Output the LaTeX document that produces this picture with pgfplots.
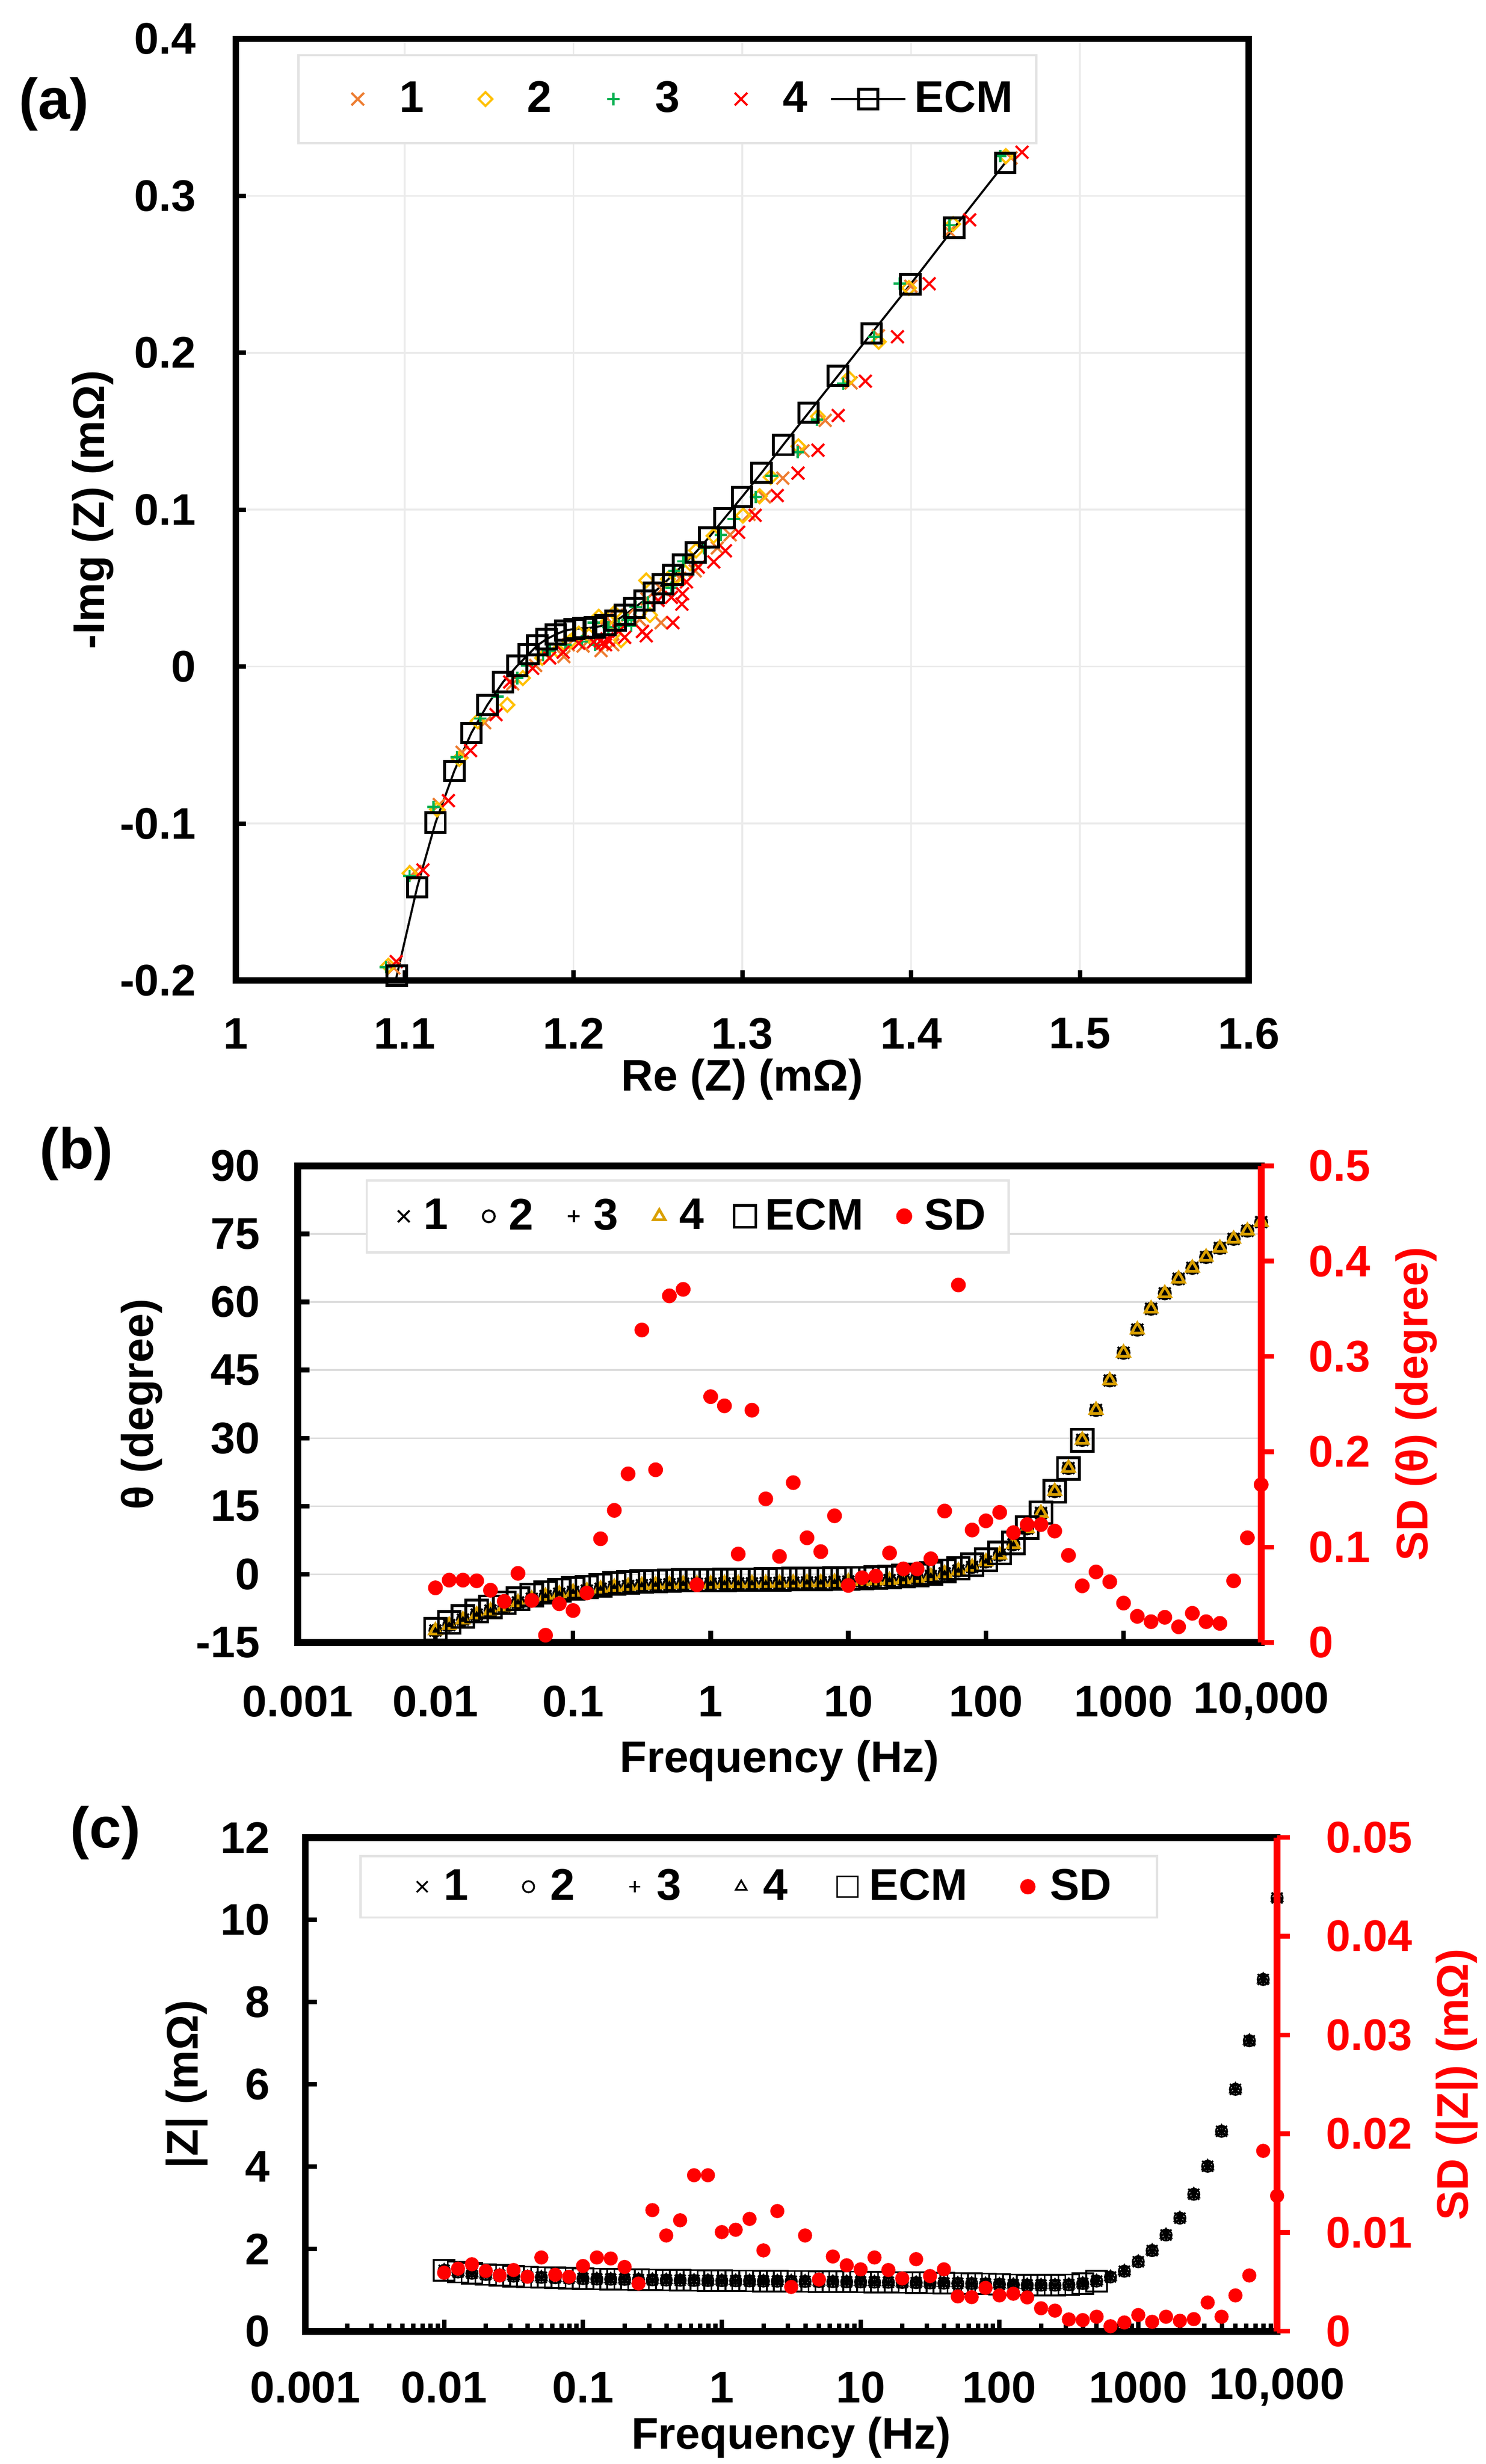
\documentclass[border=0pt]{standalone}
\usepackage{fontspec}
\setmainfont{Liberation Sans}
\usepackage{pgfplots}
\usepackage{pgfplotstable}
\pgfplotsset{compat=1.18}
\definecolor{cor}{HTML}{ED7D31}
\definecolor{cgo}{HTML}{FFC000}
\definecolor{cgr}{HTML}{00B050}
\definecolor{cre}{HTML}{FF0000}
\definecolor{ctr}{HTML}{DAA000}
\definecolor{cgrid}{HTML}{EBEBEB}
\definecolor{cgridb}{HTML}{DDDDDD}
\definecolor{cleg}{HTML}{E3E3E3}
\newcommand{\tf}{\fontsize{15}{18}\selectfont\bfseries}
\pgfplotsset{mimg/.style={legend image code/.code={\path (0pt,0pt) (2*#1,0pt); \draw[##1] plot coordinates {(#1,0pt)};}},
 ecmimg/.style={legend image code/.code={\draw[mark repeat=2,mark phase=2,##1] plot coordinates {(0pt,0pt)(#1,0pt)(2*#1,0pt)};}}}

% idx f theta_meas theta_ECM SD_theta |Z|_meas |Z|_ECM SD_|Z|
\pgfplotstableread{
i f thm thecm sdth zm zecm sdz
0 0.01 -12.4 -12.1 0.0572 1.48 1.48 0.00593
1 0.01259 -11.2 -10.6 0.0653 1.44 1.44 0.00634
2 0.01585 -10.0 -9.3 0.0653 1.41 1.41 0.00679
3 0.01995 -8.9 -8.1 0.0646 1.38 1.38 0.0061
4 0.02512 -8.0 -7.2 0.0547 1.36 1.36 0.00565
5 0.03162 -7.1 -6.3 0.0430 1.34 1.34 0.0062
6 0.03981 -6.2 -5.4 0.0724 1.32 1.32 0.00552
7 0.05012 -5.4 -4.6 0.0440 1.31 1.31 0.00747
8 0.0631 -4.8 -4.0 0.0075 1.30 1.30 0.00572
9 0.07943 -4.3 -3.5 0.0405 1.29 1.29 0.00552
10 0.1 -3.9 -3.1 0.0334 1.28 1.28 0.00661
11 0.1259 -3.6 -2.8 0.0518 1.27 1.27 0.00747
12 0.1585 -3.2 -2.4 0.1087 1.265 1.265 0.00737
13 0.1995 -2.8 -2.0 0.1385 1.26 1.26 0.00651
14 0.2512 -2.6 -1.8 0.1768 1.255 1.255 0.00483
15 0.3162 -2.4 -1.6 0.3278 1.25 1.25 0.01227
16 0.3981 -2.3 -1.5 0.1811 1.245 1.245 0.0097
17 0.5012 -2.2 -1.4 0.3636 1.24 1.24 0.01124
18 0.631 -2.1 -1.3 0.3704 1.235 1.235 0.0158
19 0.7943 -2.1 -1.3 0.0604 1.232 1.232 0.0158
20 1 -2.1 -1.3 0.2578 1.229 1.229 0.01004
21 1.259 -2.0 -1.25 0.2482 1.226 1.226 0.01028
22 1.585 -2.0 -1.2 0.0927 1.223 1.223 0.01138
23 1.995 -2.0 -1.2 0.2436 1.22 1.22 0.00819
24 2.512 -1.95 -1.15 0.1506 1.217 1.217 0.01217
25 3.162 -1.9 -1.1 0.0902 1.214 1.214 0.00449
26 3.981 -1.85 -1.05 0.1676 1.211 1.211 0.0097
27 5.012 -1.8 -1.0 0.1097 1.208 1.208 0.00524
28 6.31 -1.8 -1.0 0.0952 1.205 1.205 0.00757
29 7.943 -1.7 -0.95 0.1328 1.202 1.202 0.00668
30 10 -1.6 -0.9 0.0597 1.2 1.2 0.00627
31 12.59 -1.55 -0.85 0.0678 1.195 1.195 0.00747
32 15.85 -1.4 -0.7 0.0696 1.19 1.19 0.0062
33 19.95 -1.3 -0.6 0.0938 1.185 1.185 0.00535
34 25.12 -1.1 -0.4 0.0771 1.18 1.18 0.0073
35 31.62 -0.8 -0.15 0.0771 1.175 1.175 0.00559
36 39.81 -0.4 0.2 0.0877 1.17 1.17 0.00627
37 50.12 0.2 0.75 0.1378 1.165 1.165 0.00353
38 63.1 0.8 1.3 0.375 1.16 1.16 0.00346
39 79.43 1.6 2.1 0.1179 1.15 1.15 0.00439
40 100 2.8 3.2 0.1275 1.14 1.14 0.00363
41 125.9 4.3 4.7 0.1364 1.13 1.13 0.0038
42 158.5 6.6 6.9 0.1151 1.125 1.125 0.00343
43 199.5 10.1 10.3 0.1236 1.12 1.12 0.00233
44 251.2 13.5 13.6 0.1236 1.12 1.12 0.00209
45 316.2 18.3 18.3 0.1168 1.13 1.13 0.0012
46 398.1 23.4 23.3 0.0913 1.16 1.16 0.00113
47 501.2 29.6 29.5 0.0593 1.22 1.22 0.00147
48 631 36.2 nan 0.0739 1.32 nan 0.00051
49 794.3 42.7 nan 0.0636 1.46 nan 0.00089
50 1000 48.8 nan 0.0412 1.69 nan 0.00164
51 1259 53.9 nan 0.0273 1.96 nan 0.00096
52 1585 58.5 nan 0.0217 2.34 nan 0.00147
53 1995 61.9 nan 0.0263 2.75 nan 0.00106
54 2512 65.1 nan 0.0163 3.33 nan 0.00123
55 3162 67.5 nan 0.0305 4.01 nan 0.00291
56 3981 69.9 nan 0.0217 4.86 nan 0.00147
57 5012 71.9 nan 0.0199 5.88 nan 0.00363
58 6310 73.9 nan 0.0646 7.06 nan 0.00565
59 7943 75.7 nan 0.1097 8.55 nan 0.01827
60 10000 77.6 nan 0.1655 10.53 nan 0.01371
}\tabF

\begin{document}
\begin{tikzpicture}
\useasboundingbox (0,0) rectangle (503.55pt,835.35pt);

%================ (a) =================
\begin{axis}[
 at={(79.95pt,502.95pt)}, anchor=south west, scale only axis,
 width=343.35pt, height=319.2pt,
 xmin=1, xmax=1.6, ymin=-0.2, ymax=0.4,
 xtick={1,1.1,1.2,1.3,1.4,1.5,1.6}, xticklabels={1,1.1,1.2,1.3,1.4,1.5,1.6},
 ytick={-0.2,-0.1,0,0.1,0.2,0.3,0.4}, yticklabels={-0.2,-0.1,0,0.1,0.2,0.3,0.4},
 xtick pos=bottom, ytick pos=left, tick align=inside, major tick length=3.5pt,
 major tick style={line width=1.5pt, black},
 axis line style={line width=2.1pt},
 grid=major, major grid style={cgrid, line width=0.6pt},
 tick label style={font=\tf},
 xticklabel style={anchor=center, yshift=-18pt},
 yticklabel style={anchor=east, inner sep=0pt, xshift=-13.3pt},
 every axis x label/.style={at={(axis description cs:0.5,-0.105)}, anchor=center, font=\tf},
 every axis y label/.style={at={(axis description cs:-0.141,0.5)}, rotate=90, anchor=center, font=\tf},
 xlabel={Re (Z) (mΩ)}, ylabel={-Img (Z) (mΩ)},
 legend columns=-1, legend cell align=left,
 legend style={at={(0.0607,0.984)}, anchor=north west, draw=cleg, line width=0.8pt,
   inner xsep=6.9pt, inner ysep=6.9pt, font=\tf, nodes={inner xsep=1pt, inner ysep=2pt},
   column sep=0pt, /tikz/every even column/.append style={column sep=6.6pt}},
]
\addplot[only marks, mark=x, mark size=3pt, line width=0.75pt, cor, mimg=12.8pt] coordinates {
(1.4592,0.3242)(1.4227,0.2774)(1.3998,0.2424)(1.3806,0.2108)(1.3644,0.1808)(1.3491,0.1569)
(1.3360,0.1375)(1.3240,0.1201)(1.3131,0.1081)(1.3040,0.0970)(1.2928,0.0840)(1.2852,0.0756)
(1.2721,0.0610)(1.2629,0.0563)(1.2523,0.0492)(1.2435,0.0431)(1.2519,0.0280)(1.2392,0.0299)
(1.2321,0.0328)(1.2198,0.0309)(1.2409,0.0224)(1.2233,0.0139)(1.2163,0.0102)(1.2057,0.0131)
(1.1969,0.0139)(1.1943,0.0064)(1.1776,0.0007)(1.1640,-0.0110)(1.1474,-0.0358)(1.1340,-0.0546)
(1.1205,-0.0879)(1.1062,-0.1306)(1.0936,-0.1920)};
\addlegendentry{1}
\addplot[only marks, mark=square, mark size=1.65pt, mark options={rotate=45}, line width=0.75pt, cgo, mimg=12.8pt] coordinates {
(1.4561,0.3253)(1.4249,0.2820)(1.3987,0.2413)(1.3808,0.2070)(1.3631,0.1837)(1.3448,0.1594)
(1.3332,0.1404)(1.3168,0.1208)(1.3103,0.1086)(1.3004,0.0962)(1.2830,0.0833)(1.2726,0.0740)
(1.2690,0.0657)(1.2611,0.0572)(1.2559,0.0558)(1.2431,0.0549)(1.2453,0.0328)(1.2242,0.0342)
(1.2150,0.0318)(1.2250,0.0262)(1.2282,0.0168)(1.2092,0.0196)(1.2031,0.0210)(1.1978,0.0158)
(1.1907,0.0103)(1.1815,0.0055)(1.1700,-0.0073)(1.1608,-0.0244)(1.1432,-0.0348)(1.1323,-0.0588)
(1.1192,-0.0910)(1.1029,-0.1317)(1.0903,-0.1906)};
\addlegendentry{2}
\addplot[only marks, mark=+, mark size=2.1pt, line width=0.8pt, cgr, mimg=12.8pt] coordinates {
(1.4528,0.3253)(1.4227,0.2813)(1.3932,0.2440)(1.3780,0.2102)(1.3598,0.1804)(1.3443,0.1573)
(1.3328,0.1366)(1.3175,0.1217)(1.3081,0.1081)(1.2950,0.0941)(1.2872,0.0840)(1.2773,0.0756)
(1.2651,0.0671)(1.2598,0.0611)(1.2580,0.0502)(1.2440,0.0408)(1.2369,0.0379)(1.2321,0.0299)
(1.2343,0.0262)(1.2268,0.0262)(1.2207,0.0252)(1.2119,0.0280)(1.2128,0.0139)(1.2049,0.0159)
(1.1952,0.0139)(1.1859,0.0102)(1.1820,0.0073)(1.1726,0.0006)(1.1667,-0.0073)(1.1550,-0.0192)
(1.1449,-0.0331)(1.1309,-0.0577)(1.1171,-0.0894)(1.1029,-0.1333)(1.0889,-0.1915)};
\addlegendentry{3}
\addplot[only marks, mark=x, mark size=3pt, line width=0.75pt, cre, mimg=12.8pt] coordinates {
(1.4657,0.3278)(1.4347,0.2847)(1.4107,0.2440)(1.3919,0.2102)(1.3729,0.1819)(1.3568,0.1600)
(1.3448,0.1379)(1.3330,0.1233)(1.3207,0.1090)(1.3076,0.0964)(1.2978,0.0856)(1.2900,0.0738)
(1.2831,0.0667)(1.2739,0.0634)(1.2669,0.0540)(1.2646,0.0464)(1.2642,0.0398)(1.2580,0.0441)
(1.2501,0.0422)(1.2589,0.0280)(1.2431,0.0196)(1.2409,0.0224)(1.2303,0.0186)(1.2268,0.0224)
(1.2198,0.0177)(1.2172,0.0149)(1.2190,0.0139)(1.2207,0.0170)(1.2159,0.0163)(1.2119,0.0157)
(1.2031,0.0149)(1.1939,0.0092)(1.1859,0.0055)(1.1758,-0.0011)(1.1622,-0.0098)(1.1541,-0.0306)
(1.1390,-0.0535)(1.1259,-0.0854)(1.1108,-0.1296)(1.0950,-0.1880)};
\addlegendentry{4}
\addplot[black, line width=0.7pt, mark=square, mark size=3.3pt, mark options={line width=1pt, fill=none}, ecmimg=12.6pt] coordinates {
(1.4557,0.3210)(1.4255,0.2797)(1.3996,0.2436)(1.3766,0.2124)(1.3566,0.1853)(1.3393,0.1618)
(1.3242,0.1413)(1.3114,0.1235)(1.2998,0.1081)(1.2895,0.0946)(1.2802,0.0823)(1.2724,0.0728)
(1.2650,0.0650)(1.2590,0.0585)(1.2530,0.0525)(1.2475,0.0470)(1.2420,0.0422)(1.2360,0.0375)
(1.2305,0.0330)(1.2250,0.0292)(1.2190,0.0265)(1.2125,0.0250)(1.2060,0.0245)(1.2005,0.0240)
(1.1950,0.0230)(1.1895,0.0205)(1.1840,0.0175)(1.1785,0.0135)(1.1734,0.0079)(1.1667,0.0006)
(1.1583,-0.0098)(1.1490,-0.0244)(1.1395,-0.0423)(1.1294,-0.0665)(1.1183,-0.0994)(1.1074,-0.1406)
(1.0953,-0.1970)(1.0820,-0.2700)};
\addlegendentry{\hspace{1.8pt}ECM\hspace{4pt}}
\end{axis}

%================ (b) =================
\begin{axis}[
 at={(100.95pt,278.55pt)}, anchor=south west, scale only axis,
 width=326.55pt, height=161.55pt,
 xmode=log, xmin=0.001, xmax=10000, ymin=-15, ymax=90,
 xtick={0.001,0.01,0.1,1,10,100,1000,10000}, xticklabels={0.001,0.01,0.1,1,10,100,1000,{10,000}},
 xminorticks=false,
 ytick={-15,0,15,30,45,60,75,90}, yticklabels={-15,0,15,30,45,60,75,90},
 xtick pos=bottom, ytick pos=left, tick align=inside, major tick length=4pt,
 major tick style={line width=1.6pt, black},
 axis line style={line width=2.3pt},
 ymajorgrids, major grid style={cgridb, line width=0.6pt},
 clip mode=individual,
 tick label style={font=\tf},
 xticklabel style={anchor=center, yshift=-20pt},
 yticklabel style={anchor=east, inner sep=0pt, xshift=-12.6pt},
 every axis x label/.style={at={(axis description cs:0.5,-0.249)}, anchor=center, font=\tf},
 every axis y label/.style={at={(axis description cs:-0.162,0.5)}, rotate=90, anchor=center, font=\tf},
 xlabel={Frequency (Hz)}, ylabel={θ (degree)},
 legend columns=-1, legend cell align=left,
 legend style={at={(0.0703,0.972)}, anchor=north west, draw=cleg, line width=0.8pt,
   inner xsep=6.8pt, inner ysep=4.2pt, font=\tf, nodes={inner xsep=1pt, inner ysep=2pt},
   column sep=0pt, /tikz/every even column/.append style={column sep=7pt}},
]
\addplot[only marks, mark=x, mark size=2.8pt, line width=0.7pt, black, mimg=5.4pt] table[x=f,y=thm] {\tabF};
\addlegendentry{1}
\addplot[only marks, mark=o, mark size=2pt, line width=0.7pt, black, mimg=5.4pt] table[x=f,y=thm] {\tabF};
\addlegendentry{2}
\addplot[only marks, mark=+, mark size=2pt, line width=0.7pt, black, mimg=5.4pt] table[x=f,y=thm] {\tabF};
\addlegendentry{3}
\addplot[only marks, mark=triangle, mark size=2.3pt, line width=0.9pt, ctr, mimg=5.4pt] table[x=f,y=thm] {\tabF};
\addlegendentry{4}
\addplot[only marks, mark=square, mark size=3.7pt, line width=0.9pt, black, mimg=5.4pt] table[x=f,y=thecm] {\tabF};
\addlegendentry{ECM}
\addlegendimage{only marks, mark=*, mark size=2.3pt, cre, mark options={draw=cre, fill=cre}, mimg=5.4pt}
\addlegendentry{SD}
\end{axis}
\begin{axis}[
 at={(100.95pt,278.55pt)}, anchor=south west, scale only axis,
 width=326.55pt, height=161.55pt,
 xmode=log, xmin=0.001, xmax=10000, ymin=0, ymax=0.5,
 axis x line=none, axis y line*=right, scaled y ticks=false,
 ytick={0,0.1,0.2,0.3,0.4,0.5}, yticklabels={0,0.1,0.2,0.3,0.4,0.5},
 y axis line style={cre, line width=2.3pt},
 major tick style={cre, line width=1.6pt},
 tick align=outside, major tick length=4.4pt,
 clip mode=individual,
 yticklabel style={font=\tf, text=cre, anchor=west, inner sep=0pt, xshift=11.6pt},
 every axis y label/.style={at={(axis description cs:1.161,0.5)}, rotate=90, anchor=center, font=\tf, text=cre},
 ylabel={SD (θ) (degree)},
]
\addplot[only marks, mark=*, mark size=2.3pt, cre, mark options={draw=cre, fill=cre}] table[x=f,y=sdth] {\tabF};
\end{axis}

%================ (c) =================
\begin{axis}[
 at={(103.5pt,45pt)}, anchor=south west, scale only axis,
 width=329.4pt, height=167.4pt,
 xmode=log, xmin=0.001, xmax=10000, ymin=0, ymax=12,
 xtick={0.001,0.01,0.1,1,10,100,1000,10000}, xticklabels={0.001,0.01,0.1,1,10,100,1000,{10,000}},
 xminorticks=true,
 ytick={0,2,4,6,8,10,12}, yticklabels={0,2,4,6,8,10,12},
 xtick pos=bottom, ytick pos=left, tick align=inside,
 major tick length=4pt, minor tick length=2.6pt,
 major tick style={line width=1.5pt, black}, minor tick style={line width=1.5pt, black},
 axis line style={line width=2.3pt},
 clip mode=individual,
 tick label style={font=\tf},
 xticklabel style={anchor=center, inner sep=0pt, yshift=-19pt},
 yticklabel style={anchor=east, inner sep=0pt, xshift=-11.9pt},
 every axis x label/.style={at={(axis description cs:0.5,-0.215)}, anchor=center, inner sep=0pt, font=\tf},
 every axis y label/.style={at={(axis description cs:-0.122,0.5)}, rotate=90, anchor=center, font=\tf},
 xlabel={Frequency (Hz)}, ylabel={|Z| (mΩ)},
 legend columns=-1, legend cell align=left,
 legend style={at={(0.0556,0.965)}, anchor=north west, draw=cleg, line width=0.8pt,
   inner xsep=14.5pt, inner ysep=2.45pt, font=\tf, nodes={inner xsep=1pt, inner ysep=2pt},
   column sep=0pt, /tikz/every even column/.append style={column sep=12.9pt}},
]
\addplot[only marks, mark=x, mark size=2.6pt, line width=0.6pt, black, mimg=6.1pt] table[x=f,y=zm] {\tabF};
\addlegendentry{1}
\addplot[only marks, mark=o, mark size=1.9pt, line width=0.6pt, black, mimg=6.1pt] table[x=f,y=zm] {\tabF};
\addlegendentry{2}
\addplot[only marks, mark=+, mark size=1.9pt, line width=0.6pt, black, mimg=6.1pt] table[x=f,y=zm] {\tabF};
\addlegendentry{3}
\addplot[only marks, mark=triangle, mark size=2.1pt, line width=0.6pt, black, mimg=6.1pt] table[x=f,y=zm] {\tabF};
\addlegendentry{4}
\addplot[only marks, mark=square, mark size=3.5pt, line width=0.6pt, black, mimg=6.1pt] table[x=f,y=zecm] {\tabF};
\addlegendentry{ECM}
\addlegendimage{only marks, mark=*, mark size=2.2pt, cre, mark options={draw=cre, fill=cre}, mimg=6.1pt}
\addlegendentry{SD}
\end{axis}
\begin{axis}[
 at={(103.5pt,45pt)}, anchor=south west, scale only axis,
 width=329.4pt, height=167.4pt,
 xmode=log, xmin=0.001, xmax=10000, ymin=0, ymax=0.05,
 axis x line=none, axis y line*=right, scaled y ticks=false,
 ytick={0,0.01,0.02,0.03,0.04,0.05}, yticklabels={0,0.01,0.02,0.03,0.04,0.05},
 y axis line style={cre, line width=2.3pt},
 major tick style={cre, line width=1.6pt},
 tick align=outside, major tick length=4.4pt,
 clip mode=individual,
 yticklabel style={font=\tf, text=cre, anchor=west, inner sep=0pt, xshift=12pt},
 every axis y label/.style={at={(axis description cs:1.185,0.5)}, rotate=90, anchor=center, font=\tf, text=cre},
 ylabel={SD (|Z|) (mΩ)},
]
\addplot[only marks, mark=*, mark size=2.2pt, cre, mark options={draw=cre, fill=cre}] table[x=f,y=sdz] {\tabF};
\end{axis}

\node[font=\fontsize{19.5}{22}\selectfont\bfseries] at (18.3pt,800.1pt) {(a)};
\node[font=\fontsize{19.5}{22}\selectfont\bfseries] at (25.95pt,444.15pt) {(b)};
\node[font=\fontsize{19.5}{22}\selectfont\bfseries] at (35.7pt,213.9pt) {(c)};
\end{tikzpicture}
\end{document}
